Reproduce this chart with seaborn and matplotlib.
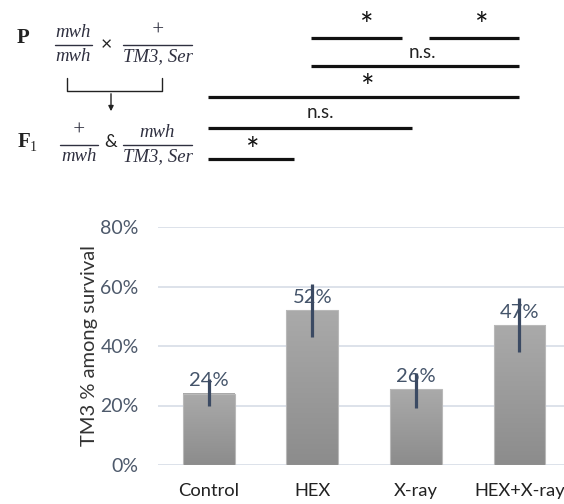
import numpy as np
import pandas as pd
import matplotlib
matplotlib.use("Agg")
import matplotlib.pyplot as plt
import matplotlib.transforms as mtransforms
from matplotlib.lines import Line2D
from matplotlib.patches import FancyArrowPatch
import seaborn as sns

# ---------------- data ----------------
categories = ["Control", "HEX", "X-ray", "HEX+X-ray"]
values = [0.24, 0.52, 0.255, 0.47]
value_labels = ["24%", "52%", "26%", "47%"]
err_low = [0.20, 0.43, 0.19, 0.38]
err_high = [0.29, 0.61, 0.31, 0.56]
y_ticks = [0.0, 0.2, 0.4, 0.6, 0.8]
y_tick_labels = ["0%", "20%", "40%", "60%", "80%"]
y_label = "TM3 % among survival"

# significance comparisons (category positions; some ends shortened)
sig_start = [1, 2.135, 1, 0, 0, 0]
sig_end = [1.865, 3, 3, 3, 1.96, 0.82]
sig_text = ["*", "*", "n.s.", "*", "n.s.", "*"]

# ---------------- figure ----------------
sns.set_theme(style="white")
plt.rcParams["font.family"] = ["Lato", "DejaVu Sans"]

W, H = 564, 504
fig = plt.figure(figsize=(W / 100, H / 100), dpi=100)

def fx(px):
    return px / W

def fy(py):
    return 1 - py / H

ax_left, ax_right = 158, 564
ax_top, ax_bottom = 227, 465
ax = fig.add_axes([fx(ax_left), fy(ax_bottom), (ax_right - ax_left) / W, (ax_bottom - ax_top) / H])

df = pd.DataFrame({"cat": categories, "val": values})
sns.barplot(data=df, x="cat", y="val", color="#9a9a9a", width=0.5, errorbar=None, ax=ax, zorder=2)

# gradient fill for bars
grad = np.linspace(0, 1, 256).reshape(-1, 1)
cmap = matplotlib.colors.LinearSegmentedColormap.from_list("g", ["#8c8c8c", "#aaaaaa"])
for p in ax.patches:
    x0, w, h = p.get_x(), p.get_width(), p.get_height()
    ax.imshow(grad, extent=[x0, x0 + w, 0, h], origin="lower", aspect="auto", cmap=cmap, zorder=2.1)
    p.set_facecolor("none")
    p.set_edgecolor("#b9b9b9")
    p.set_linewidth(0.8)
    p.set_zorder(2.2)

ax.set_xlim(-0.49, 3.43)
ax.set_ylim(0, 0.8)

for i, (v, t) in enumerate(zip(values, value_labels)):
    ax.annotate(t, (i, v), xytext=(0, 3), textcoords="offset points", ha="center", va="bottom",
                fontsize=14.5, color="#44546a", zorder=4)

yerr = [np.array(values) - np.array(err_low), np.array(err_high) - np.array(values)]
ax.errorbar(range(len(categories)), values, yerr=yerr, fmt="none", ecolor="#3b4a63",
            elinewidth=2.3, capsize=0, zorder=5)

ax.set_yticks(y_ticks)
ax.set_yticklabels(y_tick_labels, fontsize=14, color="#4d596b")
ax.tick_params(axis="y", length=0, pad=14)
ax.tick_params(axis="x", length=0, pad=13, labelsize=13.2, labelcolor="#222222")
ax.set_xlabel("")
ax.set_ylabel("")
ax.yaxis.grid(True, color="#dadfe8", linewidth=1.3, zorder=0)
ax.set_axisbelow(True)
for s in ax.spines.values():
    s.set_visible(False)

fig.text(fx(90), fy(346), y_label, rotation=90, ha="center", va="center", fontsize=14.5, color="#333333")

# ---------------- significance bars ----------------
btrans = mtransforms.blended_transform_factory(ax.transData, fig.transFigure)
line_y = [37.7, 37.7, 66, 97, 128, 159]
text_y = [20, 20, 52, 82, 113, 145]
text_dx = [0.09, 0.07, 0.06, 0.04, 0.1, 0.02]
for x0, x1, t, ly, tyy, dx in zip(sig_start, sig_end, sig_text, line_y, text_y, text_dx):
    fig.add_artist(Line2D([x0 - 0.01, x1], [fy(ly), fy(ly)], transform=btrans, color="#111111",
                          linewidth=2.3, solid_capstyle="butt"))
    if t == "*":
        fig.text((x0 + x1) / 2 + dx, fy(tyy + 7), t, transform=btrans, ha="center", va="center",
                 fontsize=23, color="#111111")
    else:
        fig.text((x0 + x1) / 2 + dx, fy(tyy), t, transform=btrans, ha="center", va="center",
                 fontsize=13.5, color="#222222")

# ---------------- genetic cross diagram ----------------
serif = ["Liberation Serif", "DejaVu Serif"]
mcol = "#2f3040"

def frac(cx, ly, x0, x1, num, den):
    fs_num = 15 if num == "+" else 13.5
    fig.text(fx(cx), fy(ly - 4), num, ha="center", va="bottom", fontsize=fs_num, style="italic",
             family=serif, color=mcol)
    fig.text(fx(cx), fy(ly + 3), den, ha="center", va="top", fontsize=13.5, style="italic",
             family=serif, color=mcol)
    fig.add_artist(Line2D([fx(x0), fx(x1)], [fy(ly), fy(ly)], transform=fig.transFigure,
                          color=mcol, linewidth=1.0))

fig.text(fx(23), fy(38), "P", ha="center", va="center", fontsize=15, weight="bold", family=serif,
         color="#222222")
frac(73.5, 45, 55, 92, "mwh", "mwh")
fig.text(fx(106), fy(45), "×", ha="center", va="center", fontsize=14, color="#222222")
frac(157.5, 45, 123, 192, "+", "TM3, Ser")

# bracket and arrow
fig.add_artist(Line2D([fx(67), fx(67), fx(162), fx(162)], [fy(78), fy(91), fy(91), fy(78)],
                      transform=fig.transFigure, color="#222222", linewidth=1.0))
fig.add_artist(FancyArrowPatch((fx(111), fy(91)), (fx(111), fy(114)), transform=fig.transFigure,
                               arrowstyle="-|>,head_length=3,head_width=1.5", color="#222222",
                               linewidth=1.0, mutation_scale=1))

fig.text(fx(24), fy(142), "F", ha="center", va="center", fontsize=15, weight="bold", family=serif,
         color="#222222")
fig.text(fx(33), fy(147), "1", ha="center", va="center", fontsize=10, family=serif, color="#222222")
frac(79, 145, 60, 98, "+", "mwh")
fig.text(fx(111), fy(142), "&", ha="center", va="center", fontsize=13, color="#222222")
frac(157.5, 145, 123, 192, "mwh", "TM3, Ser")

fig.savefig("out.png", dpi=100)
